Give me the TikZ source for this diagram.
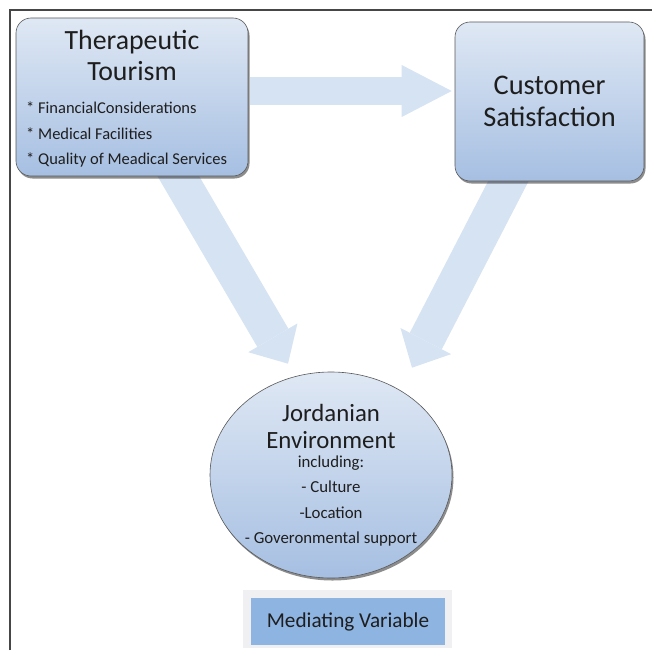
\documentclass[tikz,border=0pt]{standalone}
\usepackage{fontspec}
\setmainfont{Carlito}
\usetikzlibrary{calc,shapes.geometric,arrows.meta,shadows,backgrounds}
\definecolor{boxtop}{HTML}{DFE8F4}
\definecolor{boxbot}{HTML}{A6BFE2}
\definecolor{arrowblue}{HTML}{D6E3F3}
\definecolor{legendblue}{HTML}{8EB4E2}
\definecolor{legendgray}{HTML}{F0F0F2}
\definecolor{inkgray}{HTML}{1E1E1E}

\begin{document}
\begin{tikzpicture}[x=1pt,y=-1pt,
  every node/.style={text=inkgray, inner sep=0pt},
  shade box/.style={draw=gray!70!black, line width=0.6pt, top color=boxtop, bottom color=boxbot,
    drop shadow={shadow xshift=1.5pt, shadow yshift=-2.5pt, fill=black, opacity=0.45}},
  bigarrow/.style={draw=arrowblue, line width=36pt, -{Triangle[length=30pt,width=57pt,line width=0pt]}},
  flatarrow/.style={draw=arrowblue, line width=28pt, -{Triangle[length=50pt,width=52pt,line width=0pt]}}]
\useasboundingbox (0,0) rectangle (652,650);

% frame
\draw[line width=1.4pt, gray!55!black] (10,650) -- (10,10) -- (652,10);

% boxes
\node[shade box, rounded corners=15pt, minimum width=232pt, minimum height=158pt] (tt) at (132,97) {};
\node[shade box, rounded corners=15pt, minimum width=189pt, minimum height=159pt] (cs) at (549.5,101.5) {};
\node[shade box, ellipse, minimum width=242pt, minimum height=206pt] (je) at (331,475) {};

\node[align=center, font=\fontsize{27.8}{31}\selectfont] (ttTitle) at (132,55.5) {Therapeutic\\Tourism};
\node[align=left, anchor=west, font=\fontsize{16.5}{25.5}\selectfont] (ttList) at (26,134.5)
  {* FinancialConsiderations\\* Medical Facilities\\* Quality of Meadical Services};
\node[align=center, font=\fontsize{28.4}{32}\selectfont] (csText) at (549.5,101) {Customer\\Satisfaction};
\node[align=center, font=\fontsize{24.8}{27}\selectfont] (jeTitle) at (331,426.5) {Jordanian\\Environment};
\node[align=center, font=\fontsize{16.8}{25.5}\selectfont] (jeList) at (331,501)
  {including:\\- Culture\\-Location\\- Goveronmental support};

% arrows
\coordinate (tipL) at ($(je.north)+(-43,-8)$);
\coordinate (tipR) at ($(je.north)+(81,-4)$);
\begin{scope}[on background layer]
\draw[flatarrow] ($(tt.east)+(2,-6)$) -- ($(cs.west)+(-3,-10.5)$);
\draw[bigarrow] (tt.center) -- (tipL);
\draw[bigarrow] (cs.center) -- (tipR);
\end{scope}

% legend
\node[fill=legendgray, minimum width=209pt, minimum height=58pt] (legBack) at (347.5,619) {};
\node[fill=legendblue, minimum width=194pt, minimum height=47pt, font=\fontsize{21.2}{24}\selectfont] (legend) at (348,621.5) {Mediating Variable};
\end{tikzpicture}
\end{document}
